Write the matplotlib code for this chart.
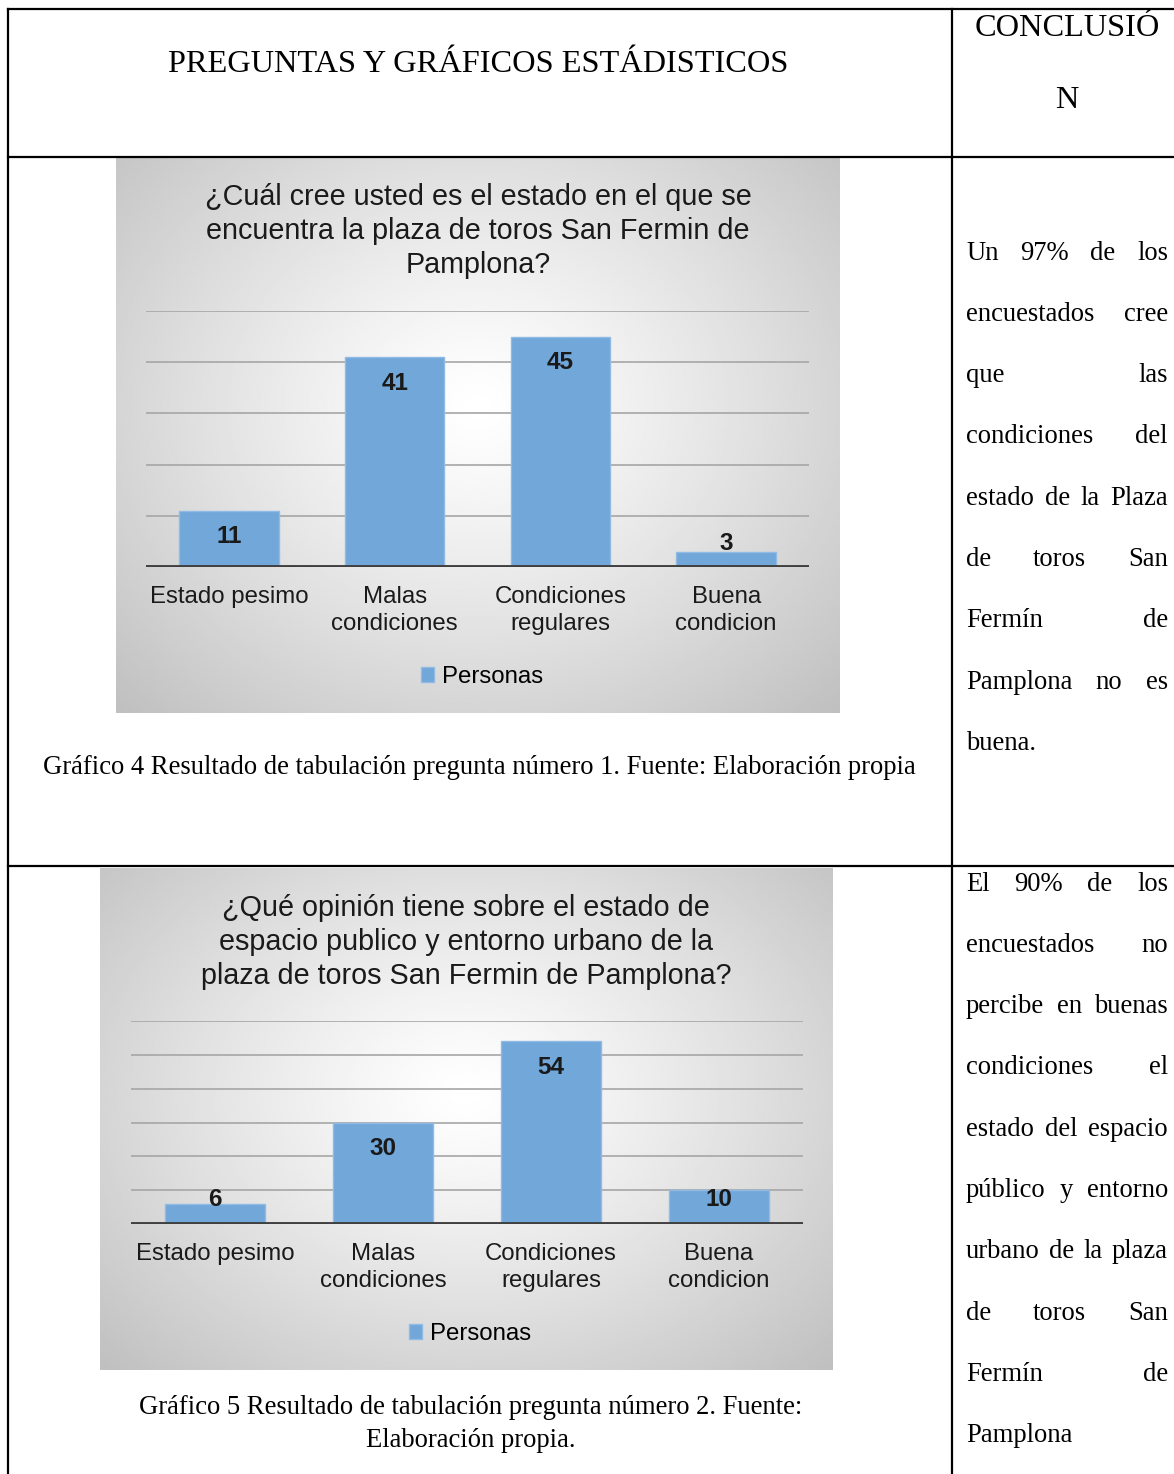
import numpy as np
import matplotlib
matplotlib.use('Agg')
import matplotlib.pyplot as plt
from matplotlib.lines import Line2D

W, H = 1174, 1474

# data
categorias = ['Estado pesimo', 'Malas\ncondiciones', 'Condiciones\nregulares', 'Buena\ncondicion']
personas_1 = [11, 41, 45, 3]
personas_2 = [6, 30, 54, 10]
titulo_1 = '¿Cuál cree usted es el estado en el que se\nencuentra la plaza de toros San Fermin de\nPamplona?'
titulo_2 = '¿Qué opinión tiene sobre el estado de\nespacio publico y entorno urbano de la\nplaza de toros San Fermin de Pamplona?'
serie = 'Personas'
encabezado = 'PREGUNTAS Y GRÁFICOS ESTÁDISTICOS'
encabezado_2 = ['CONCLUSIÓ', 'N']
pie_1 = 'Gráfico 4 Resultado de tabulación pregunta número 1. Fuente: Elaboración propia'
pie_2 = 'Gráfico 5 Resultado de tabulación pregunta número 2. Fuente:\nElaboración propia.'
conclusion_1 = ['Un 97% de los', 'encuestados cree', 'que las', 'condiciones del',
                'estado de la Plaza', 'de toros San', 'Fermín de', 'Pamplona no es', 'buena.']
conclusion_2 = ['El 90% de los', 'encuestados no', 'percibe en buenas', 'condiciones el',
                'estado del espacio', 'público y entorno', 'urbano de la plaza', 'de toros San',
                'Fermín de', 'Pamplona']

SANS = 'Liberation Sans'
SERIF = 'Liberation Serif'
BAR = '#72a7da'

fig = plt.figure(figsize=(W / 100, H / 100), dpi=100)
fig.patch.set_facecolor('white')


def fx(x):
    return x / W


def fy(y):
    return 1 - y / H


def box(x0, y0, x1, y1):
    return [fx(x0), fy(y1), (x1 - x0) / W, (y1 - y0) / H]


# table lines
def hline(y, x0=8, x1=W):
    fig.add_artist(Line2D([fx(x0), fx(x1)], [fy(y), fy(y)], color='black', lw=1.6))


def vline(x, y0=9, y1=H):
    fig.add_artist(Line2D([fx(x), fx(x)], [fy(y0), fy(y1)], color='black', lw=1.6))


hline(9)
hline(157)
hline(866)
vline(8)
vline(952)

fig.text(fx(478), fy(64), encabezado, family=SERIF, fontsize=23.3, ha='center', va='center')
fig.text(fx(1067), fy(28), encabezado_2[0], family=SERIF, fontsize=23.3, ha='center', va='center')
fig.text(fx(1067), fy(101), encabezado_2[1], family=SERIF, fontsize=23.3, ha='center', va='center')


def gradiente(x0, y0, x1, y1):
    ax = fig.add_axes(box(x0, y0, x1, y1), zorder=0)
    yy, xx = np.mgrid[0:1:300j, 0:1:300j]
    r = np.sqrt(((xx - 0.5) / 0.5) ** 2 + ((yy - 0.45) / 0.55) ** 2) / np.sqrt(2)
    g = 1 - 0.25 * np.clip(r, 0, 1) ** 1.2
    ax.imshow(g, cmap='gray', vmin=0, vmax=1, extent=[0, 1, 0, 1], aspect='auto',
              interpolation='bilinear')
    ax.set_axis_off()


def grafico(valores, titulo, caja, area, ymax, tx, ty):
    gradiente(*caja)
    ax = fig.add_axes(box(*area), zorder=1)
    ax.set_facecolor('none')
    x = np.arange(len(valores))
    bars = ax.bar(x, valores, width=0.6, color=BAR, edgecolor='#8fbbe4', lw=1, zorder=3)
    ax.set_xlim(-0.5, len(valores) - 0.5)
    ax.set_ylim(0, ymax)
    for g in np.arange(10, ymax + 1, 10):
        ax.axhline(g, color='#a6a6a6', lw=1.2, zorder=1)
    ax.axhline(0, color='#404040', lw=2.8, zorder=4)
    for s in ax.spines.values():
        s.set_visible(False)
    ax.set_xticks([])
    ax.set_yticks([])
    for i, v in enumerate(valores):
        p0 = ax.transData.transform((0, 0))
        p1 = ax.transData.transform((0, v))
        h = p1[1] - p0[1]
        off = -min(26, h - 24)
        ax.annotate(str(v), (i, v), xytext=(0, off), textcoords='offset pixels',
                    ha='center', va='center', family=SANS, fontsize=17.5, fontweight='bold',
                    color='#1a1a1a', zorder=5)
        ax.annotate(categorias[i], (i, 0), xytext=(0, -19), textcoords='offset pixels',
                    ha='center', va='top', family=SANS, fontsize=17.3, color='#1a1a1a',
                    linespacing=1.32)
    fig.text(fx(tx), fy(ty), titulo, family=SANS, fontsize=20.7, ha='center', va='top',
             color='#1a1a1a', linespacing=1.27)
    leg_y = area[3] + 110
    ax.legend([bars], [serie], loc='center', bbox_to_anchor=(fx(tx + 4), fy(leg_y)),
              bbox_transform=fig.transFigure, frameon=False, handlelength=0.55,
              handleheight=0.55, handletextpad=0.3,
              prop={'family': SANS, 'size': 17.3})
    return ax


grafico(personas_1, titulo_1, (116, 157, 840, 713), (146, 311, 809, 567), 50, 478, 183)
grafico(personas_2, titulo_2, (100, 868, 833, 1370), (131, 1021, 803, 1224), 60, 466, 894)

fig.text(fx(479), fy(767), pie_1, family=SERIF, fontsize=19.2, ha='center', va='center')
fig.text(fx(471), fy(1424), pie_2, family=SERIF, fontsize=19.2, ha='center', va='center',
         linespacing=1.42)


def justificado(lineas, x0, x1, y0, dy, size=19.2):
    r = fig.canvas.get_renderer()
    for k, linea in enumerate(lineas):
        y = y0 + k * dy
        palabras = linea.split()
        if k == len(lineas) - 1 or len(palabras) == 1:
            fig.text(fx(x0), fy(y), linea, family=SERIF, fontsize=size, ha='left', va='center')
            continue
        ts = [fig.text(0, fy(y), p, family=SERIF, fontsize=size, ha='left', va='center')
              for p in palabras]
        anchos = [t.get_window_extent(r).width for t in ts]
        hueco = (x1 - x0 - sum(anchos)) / (len(palabras) - 1)
        xp = x0
        for t, a in zip(ts, anchos):
            t.set_x(fx(xp))
            xp += a + hueco


justificado(conclusion_1, 966, 1168, 253, 61.3)
justificado(conclusion_2, 966, 1168, 884, 61.3)

fig.savefig('out.png', dpi=100)
